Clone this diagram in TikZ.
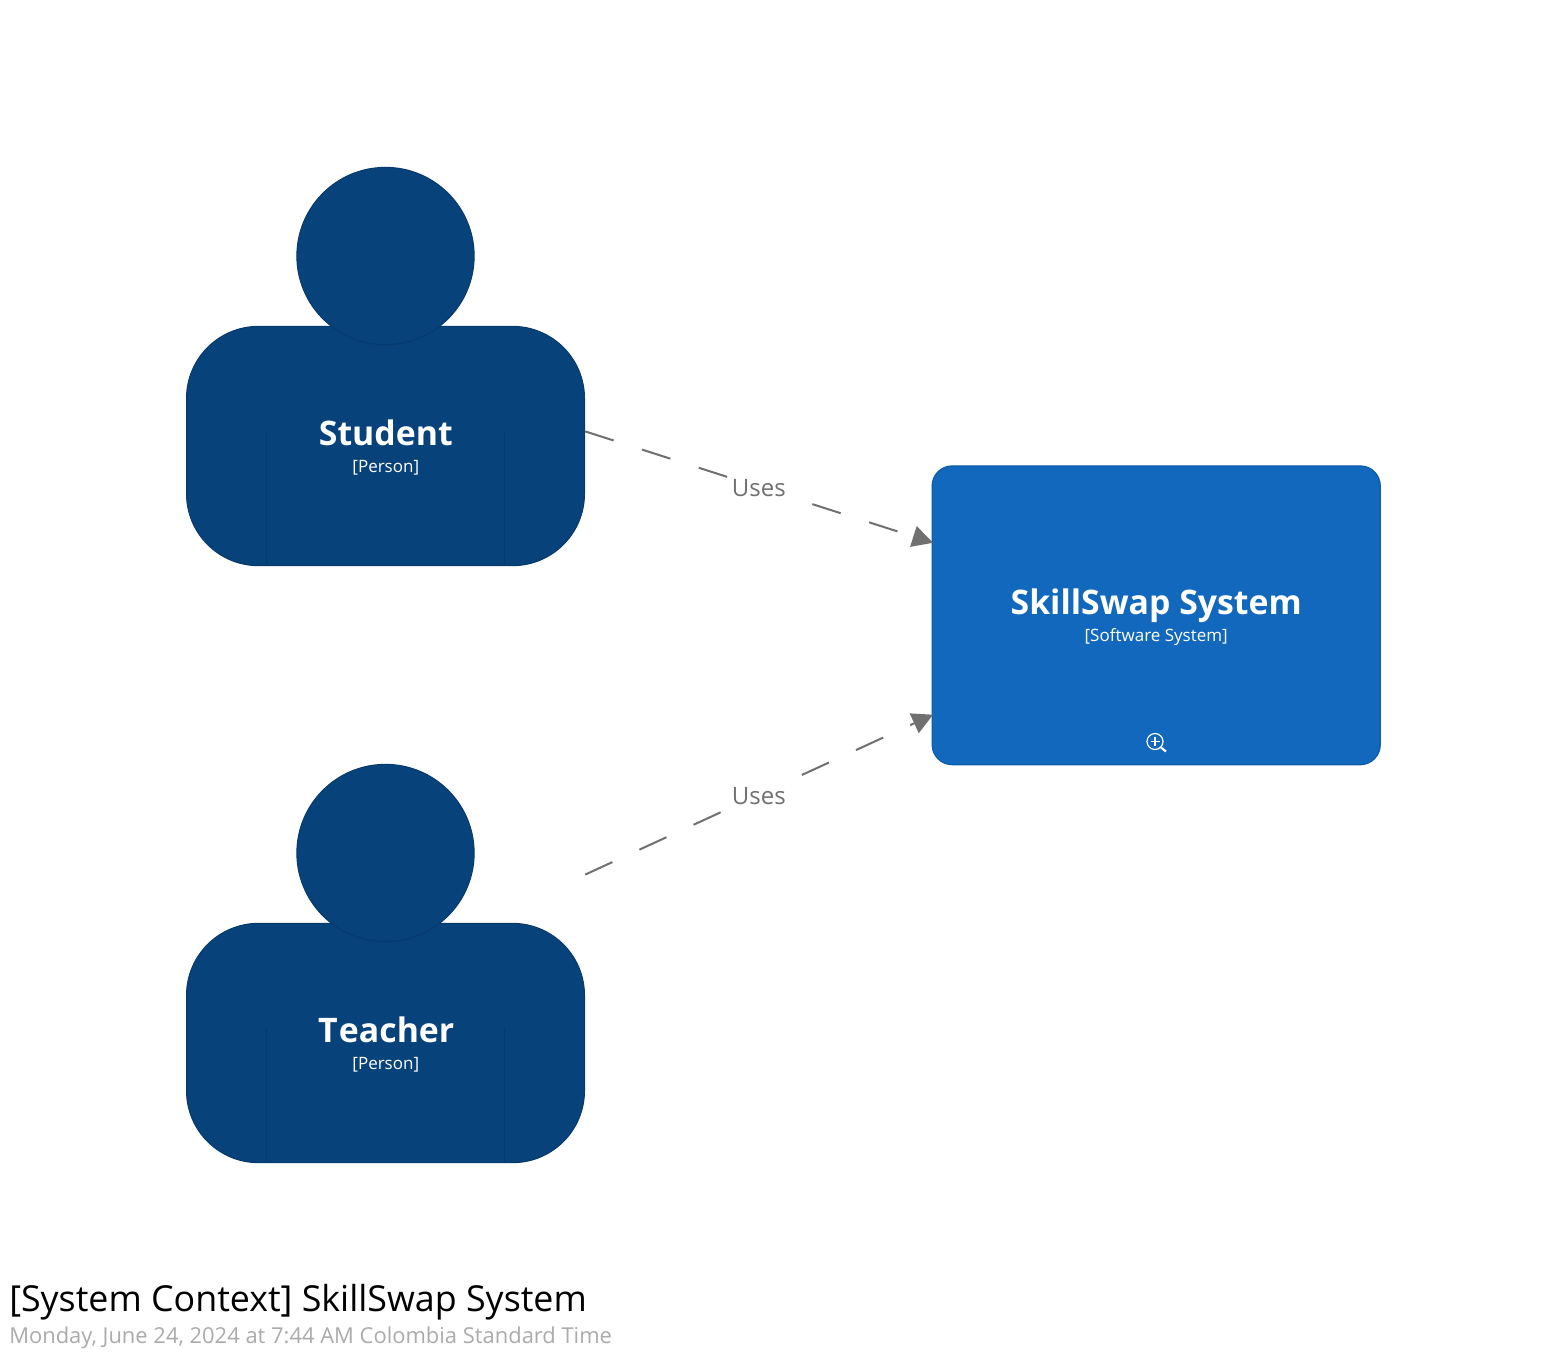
\documentclass[tikz,border=0pt]{standalone}
\usepackage{fontspec}
\setmainfont{Open Sans}
\usetikzlibrary{arrows.meta}
\definecolor{personfill}{HTML}{08427B}
\definecolor{personline}{HTML}{073A6C}
\definecolor{sysfill}{HTML}{1168BD}
\definecolor{sysline}{HTML}{0F5CA8}
\definecolor{edgecol}{HTML}{707070}
\definecolor{datecol}{HTML}{ABABAB}
\tikzset{
  px/.style={x=0.75pt,y=-0.75pt},
  body/.style={rectangle,rounded corners=54pt,minimum width=298.5pt,minimum height=179.5pt,fill=personfill,draw=personline,line width=0.75pt,inner sep=0pt},
  head/.style={circle,minimum size=133pt,fill=personfill,draw=personline,line width=0.75pt,inner sep=0pt},
  arm/.style={draw=personline,line width=0.75pt},
  hull/.style={rectangle,minimum size=299.25pt,inner sep=0pt},
  system/.style={rectangle,rounded corners=15pt,minimum width=336pt,minimum height=224pt,fill=sysfill,draw=sysline,line width=1pt,inner sep=0pt},
  elname/.style={text=white,font=\fontsize{25.35}{30}\selectfont\bfseries,inner sep=0pt,anchor=base},
  eltype/.style={text=white,font=\fontsize{12.75}{15}\selectfont,inner sep=0pt,anchor=base},
  uses/.style={draw=edgecol,line width=1.5pt,dash pattern=on 22.35pt off 22.35pt,shorten >=-1.2pt,-{Triangle[length=15.5pt,width=16pt,fill=edgecol]}},
  edgelabel/.style={text=edgecol,fill=white,font=\fontsize{18}{22}\selectfont,inner sep=1pt},
  icon/.style={draw=white,line width=0.9pt}
}
\begin{document}
\begin{tikzpicture}[px]
\useasboundingbox (0,0) rectangle (1568,1354);
\fill[white] (0,0) rectangle (1568,1354);
% Student
\node[hull] (student) at (385.5,366.5) {};
\node[body] (studentbody) at (385.5,446) {};
\draw[arm] (266,431) -- (266,566);
\draw[arm] (504.8,431) -- (504.8,566);
\node[head] (studenthead) at (385.5,256) {};
\node[elname] (studentname) at (385.8,445) {Student};
\node[eltype] (studenttype) at (385.8,472.5) {[Person]};
% Teacher
\node[hull] (teacher) at (385.5,963.5) {};
\node[body] (teacherbody) at (385.5,1043) {};
\draw[arm] (266,1028) -- (266,1163);
\draw[arm] (504.8,1028) -- (504.8,1163);
\node[head] (teacherhead) at (385.5,853) {};
\node[elname] (teachername) at (386.2,1042) {T\kern1pt eacher};
\node[eltype] (teachertype) at (385.8,1069.5) {[Person]};
% System
\node[system] (sys) at (1156.2,615.3) {};
\node[elname] (sysname) at (1156.2,614) {SkillSwap System};
\node[eltype] (systype) at (1156.2,641.5) {[Software System]};
% Zoom icon
\node[circle,icon,minimum size=12pt,inner sep=0pt] (lens) at (1155,741.5) {};
\draw[icon] (1150.5,741.5) -- (1159.5,741.5);
\draw[icon] (1155,737) -- (1155,746);
\draw[white,line width=1.6pt] (lens.-45) -- (1166,751.5);
% Connectors
\draw[uses] (student.-18.1) -- (sys.162.1);
\draw[uses] (teacher.24.6) -- (sys.204.1);
\node[edgelabel] (uses1) at (758.8,488) {Uses};
\node[edgelabel] (uses2) at (758.8,796) {Uses};
% Title
\node[anchor=base west,inner sep=0pt,font=\fontsize{26.85}{32}\selectfont] (title) at (9,1311) {[System Context] SkillSwap System};
\node[anchor=base west,inner sep=0pt,text=datecol,font=\fontsize{16.45}{20}\selectfont] (date) at (9,1343.5) {Monday, June 24, 2024 at 7:44 AM Colombia Standard Time};
\end{tikzpicture}
\end{document}
